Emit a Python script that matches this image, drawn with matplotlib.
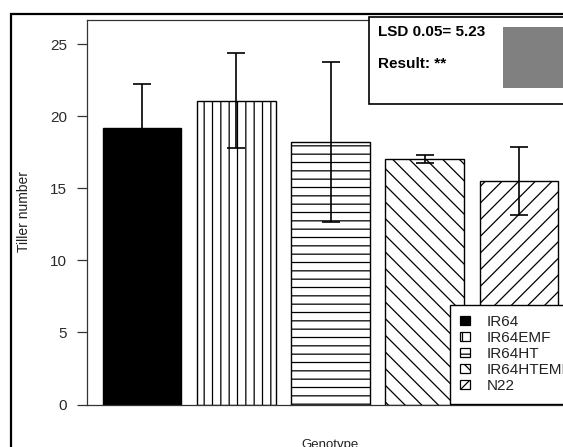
import matplotlib.pyplot as plt
from matplotlib.patches import Rectangle, Patch

# data
genotypes = ['IR64', 'IR64EMF', 'IR64HT', 'IR64HTEMF', 'N22']
tillers = [19.2, 21.1, 18.2, 17.05, 15.5]
sd = [3.05, 3.3, 5.55, 0.3, 2.36]
hatches = ['', '||', '--', '\\\\', '//']
fills = ['black', 'white', 'white', 'white', 'white']
yticks = [0, 5, 10, 15, 20, 25]

W, H = 563, 447


def main():
    plt.rcParams['font.family'] = ['Liberation Sans', 'DejaVu Sans']
    plt.rcParams['hatch.linewidth'] = 0.9

    fig = plt.figure(figsize=(W / 100, H / 100), dpi=100)
    fig.patch.set_facecolor('white')

    # outer frame (cut off on the right and bottom)
    fig.add_artist(Rectangle((11 / W, -0.2), 1.0, (H - 14) / H + 0.2,
                             transform=fig.transFigure, fill=False,
                             edgecolor='black', lw=1.6))

    # plot region in pixels: left 87, right 574 (beyond the picture), top 20, bottom 404.5
    ax = fig.add_axes([87 / W, (H - 404.5) / H, 487 / W, 384.5 / H])
    x = [0.7 + 1.2 * i for i in range(len(genotypes))]
    bars = ax.bar(x, tillers, width=1.0, color=fills, edgecolor='black',
                  linewidth=1.0, zorder=2)
    for b, h in zip(bars, hatches):
        b.set_hatch(h)
    ax.errorbar(x, tillers, yerr=sd, fmt='none', ecolor='black',
                elinewidth=1.2, capsize=6.5, capthick=1.2, zorder=3)

    ax.set_xlim(0, 6.2)
    ax.set_ylim(0, 26.7)
    ax.set_xticks([])
    ax.set_yticks(yticks)
    ax.tick_params(axis='y', length=7.2, width=0.9, pad=7, labelsize=11,
                   labelcolor='#2a2a2a', color='#333333')
    for s in ax.spines.values():
        s.set_linewidth(0.9)
        s.set_color('#333333')

    fig.text(24 / W, 1 - 211 / H, 'Tiller number', rotation=90,
             ha='center', va='center', fontsize=10, color='#222222')
    fig.text(330 / W, 1 - 439 / H, 'Genotype', ha='center', va='top',
             fontsize=9.5, color='#222222')

    # legend
    handles = [Patch(facecolor=f, edgecolor='black', hatch=h, lw=0.9)
               for f, h in zip(fills, hatches)]
    leg = fig.legend(handles, genotypes, loc='lower left',
                     bbox_to_anchor=(450 / W, (H - 403.5) / H),
                     bbox_transform=fig.transFigure, fontsize=11,
                     handlelength=0.6, handleheight=0.55, handletextpad=1.1,
                     labelspacing=0.13, borderpad=0.68, borderaxespad=0,
                     fancybox=False, framealpha=1, edgecolor='black')
    leg.get_frame().set_linewidth(1.0)
    for t in leg.get_texts():
        t.set_color('#222222')

    # LSD box
    fig.add_artist(Rectangle((369 / W, (H - 104) / H), 1.0, 87 / H,
                             transform=fig.transFigure, facecolor='white',
                             edgecolor='black', lw=1.2, zorder=5))
    fig.add_artist(Rectangle((503 / W, (H - 88) / H), 1.0, 61 / H,
                             transform=fig.transFigure, facecolor='#808080',
                             edgecolor='none', zorder=6))
    fig.text(378 / W, 1 - 32 / H, 'LSD 0.05= 5.23', fontsize=11,
             fontweight='bold', va='center', zorder=7)
    fig.text(378 / W, 1 - 64 / H, 'Result: **', fontsize=11,
             fontweight='bold', va='center', zorder=7)

    fig.savefig('out.png', dpi=100)


if __name__ == "__main__":
    main()
